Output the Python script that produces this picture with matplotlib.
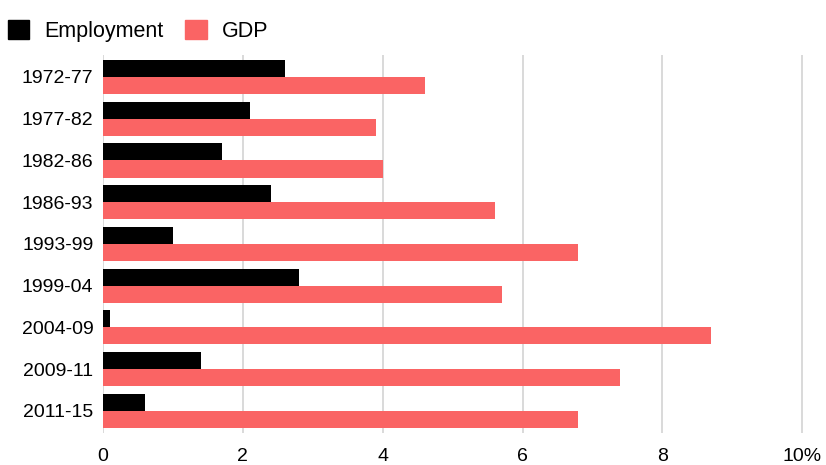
import numpy as np
import matplotlib.pyplot as plt
from matplotlib.patches import Patch

# data (annual growth, %)
periods = ['1972-77', '1977-82', '1982-86', '1986-93', '1993-99',
           '1999-04', '2004-09', '2009-11', '2011-15']
employment = [2.6, 2.1, 1.7, 2.4, 1.0, 2.8, 0.1, 1.4, 0.6]
gdp = [4.6, 3.9, 4.0, 5.6, 6.8, 5.7, 8.7, 7.4, 6.8]
xticks = [0, 2, 4, 6, 8, 10]
xticklabels = ['0', '2', '4', '6', '8', '10%']

plt.rcParams['font.family'] = ['Liberation Sans', 'DejaVu Sans']

emp_color = '#000000'
gdp_color = '#fa6464'

fig = plt.figure(figsize=(8.26, 4.65), dpi=100)
ax = fig.add_axes([0.1247, 0.069, 0.855, 0.813])

y = np.arange(len(periods))
h = 0.41
ax.barh(y - h / 2, employment, height=h, color=emp_color, zorder=3)
ax.barh(y + h / 2, gdp, height=h, color=gdp_color, zorder=3)

ax.set_xlim(0, 10.1)
ax.set_ylim(len(periods) - 0.47, -0.53)
ax.set_yticks(y)
ax.set_yticklabels(periods, fontsize=14)
ax.set_xticks(xticks)
ax.set_xticklabels(xticklabels, fontsize=14)
ax.tick_params(axis='both', length=0)
ax.tick_params(axis='y', pad=7)
ax.tick_params(axis='x', pad=11)
ax.grid(axis='x', color='#d9d9d9', lw=1.4, zorder=0)
for s in ax.spines.values():
    s.set_visible(False)

handles = [Patch(color=emp_color, label='Employment'),
           Patch(color=gdp_color, label='GDP')]
fig.legend(handles=handles, loc='upper left', bbox_to_anchor=(-0.009, 0.99),
           ncol=2, frameon=False, fontsize=15.5, handlelength=1.0,
           handleheight=1.0, handletextpad=0.7, columnspacing=1.0,
           borderaxespad=0.3)

fig.savefig('out.png', dpi=100)
